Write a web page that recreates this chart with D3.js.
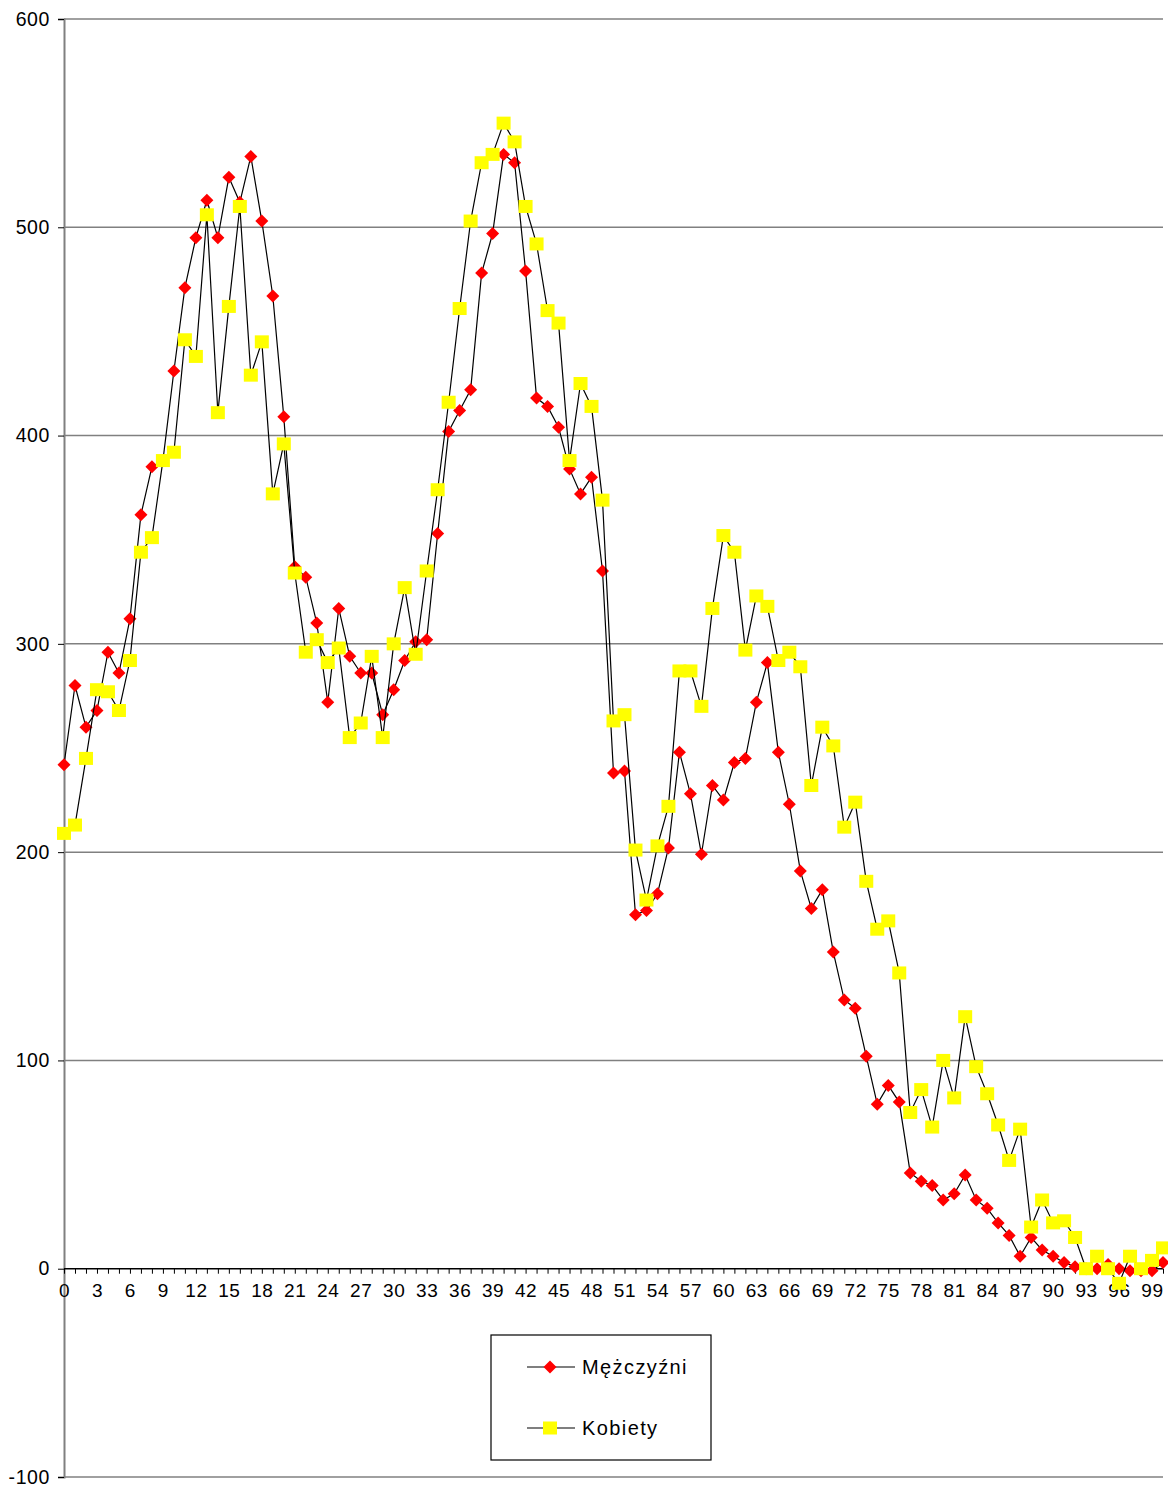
<!DOCTYPE html>
<html>
<head>
<meta charset="utf-8">
<script src="https://cdn.jsdelivr.net/npm/d3@7"></script>
<style>
  body { margin: 0; background: #fff; }
  text { font-family: "Liberation Sans", Arial, sans-serif; fill: #000; }
</style>
</head>
<body>
<svg width="1168" height="1488"></svg>
<script>
// wiek 0..100
const ages = d3.range(0, 101)

const men = [242,280,260,268,296,286,312,362,385,388,
  431,471,495,513,495,524,512,534,503,467,
  409,337,332,310,272,317,294,286,286,266,
  278,292,301,302,353,402,412,422,478,497,
  535,531,479,418,414,404,384,372,380,335,
  238,239,170,172,180,202,248,228,199,232,
  225,243,245,272,291,248,223,191,173,182,
  152,129,125,102,79,88,80,46,42,40,
  33,36,45,33,29,22,16,6,15,9,
  6,3,1,0,0,2,0,-1,-1,-1,3]

const women = [209,213,245,278,277,268,292,344,351,388,
  392,446,438,506,411,462,510,429,445,372,
  396,334,296,302,291,298,255,262,294,255,
  300,327,295,335,374,416,461,503,531,535,
  550,541,510,492,460,454,388,425,414,369,
  263,266,201,177,203,222,287,287,270,317,
  352,344,297,323,318,292,296,289,232,260,
  251,212,224,186,163,167,142,75,86,68,
  100,82,121,97,84,69,52,67,20,33,
  22,23,15,0,6,0,-7,6,0,4,10]

const yTicks = [-100, 0, 100, 200, 300, 400, 500, 600]
const seriesNames = ["Mężczyźni", "Kobiety"]

const svg = d3.select("svg")
const plot = {left: 64, right: 1163, top: 19, bottom: 1477}

const x = d3.scalePoint().domain(ages).range([plot.left, plot.right])
const y = d3.scaleLinear().domain([-100, 600]).range([plot.bottom, plot.top])

// gridlines
svg.append("g")
  .selectAll("line")
  .data(yTicks.filter(d => d !== 0))
  .join("line")
  .attr("x1", plot.left).attr("x2", plot.right)
  .attr("y1", d => y(d)).attr("y2", d => y(d))
  .attr("stroke", "#808080")
  .attr("stroke-width", 1.5)

// y axis
const yAxisG = svg.append("g")
  .attr("transform", `translate(${plot.left},0)`)
  .call(d3.axisLeft(y).tickValues(yTicks).tickSize(6).tickPadding(8).tickFormat(d => String(d)))
yAxisG.select(".domain").attr("stroke", "#808080").attr("stroke-width", 2)
yAxisG.selectAll(".tick line").attr("stroke", "#000")
yAxisG.selectAll("text")
  .style("font-size", "19.5px")
  .style("letter-spacing", "0.6px")
  .attr("font-family", null)

// x axis at zero
const xAxisG = svg.append("g")
  .attr("transform", `translate(0,${y(0)})`)
  .call(d3.axisBottom(x).tickSize(5).tickPadding(10)
    .tickFormat(d => d % 3 === 0 ? d : ""))
xAxisG.select(".domain").attr("stroke", "#000").attr("stroke-width", 1.5)
  .attr("d", `M${plot.left},0H${plot.right}`)
xAxisG.selectAll(".tick line").attr("stroke", "#000")
xAxisG.selectAll("text")
  .style("font-size", "19px")
  .style("letter-spacing", "0.6px")
  .attr("font-family", null)

const line = d3.line().x((d, i) => x(ages[i])).y(d => y(d))

const diamond = (cx, cy, r) => `M${cx},${cy - r}L${cx + r},${cy}L${cx},${cy + r}L${cx - r},${cy}Z`

// Mężczyźni
svg.append("path").datum(men)
  .attr("d", line).attr("fill", "none").attr("stroke", "#000").attr("stroke-width", 1.2)
svg.append("g").selectAll("path")
  .data(men)
  .join("path")
  .attr("d", (d, i) => diamond(x(ages[i]), y(d), 6.5))
  .attr("fill", "#ff0000")

// Kobiety
svg.append("path").datum(women)
  .attr("d", line).attr("fill", "none").attr("stroke", "#000").attr("stroke-width", 1.2)
svg.append("g").selectAll("rect")
  .data(women)
  .join("rect")
  .attr("x", (d, i) => x(ages[i]) - 7)
  .attr("y", d => y(d) - 6.5)
  .attr("width", 14)
  .attr("height", 13)
  .attr("fill", "#ffff00")

// legend
const legendG = svg.append("g").attr("transform", "translate(491,1335)")
legendG.append("rect")
  .attr("width", 220).attr("height", 125)
  .attr("fill", "#fff").attr("stroke", "#000").attr("stroke-width", 1.2)

const rows = legendG.selectAll("g.item")
  .data(seriesNames)
  .join("g")
  .attr("class", "item")
  .attr("transform", (d, i) => `translate(0,${32 + i * 61})`)
rows.append("line")
  .attr("x1", 36).attr("x2", 84)
  .attr("stroke", "#000").attr("stroke-width", 1.2)
rows.filter((d, i) => i === 0).append("path")
  .attr("d", diamond(59, 0, 6.5)).attr("fill", "#ff0000")
rows.filter((d, i) => i === 1).append("rect")
  .attr("x", 52).attr("y", -6.5).attr("width", 14).attr("height", 13).attr("fill", "#ffff00")
rows.append("text")
  .attr("x", 91).attr("y", 7)
  .style("font-size", "20px")
  .style("letter-spacing", "1.4px")
  .text(d => d)
</script>
</body>
</html>
